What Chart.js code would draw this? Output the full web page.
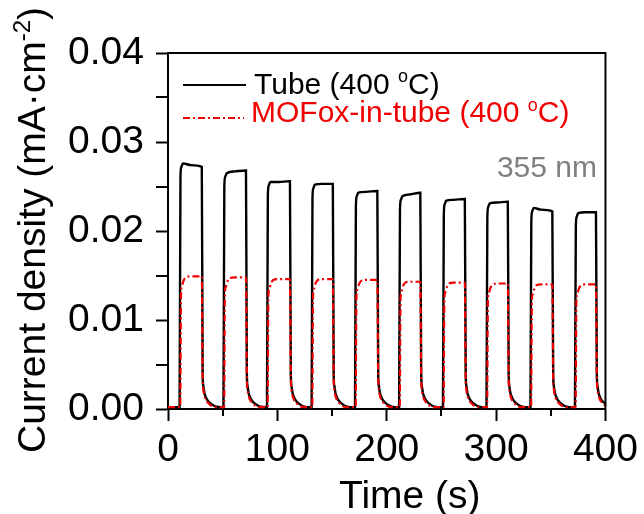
<!DOCTYPE html>
<html>
<head>
<meta charset="utf-8">
<script src="https://cdn.jsdelivr.net/npm/chart.js@4/dist/chart.umd.min.js"></script>
<style>
  html, body { margin: 0; padding: 0; background: #ffffff; }
  #wrap { width: 644px; height: 514px; position: relative; }
</style>
</head>
<body>
<div id="wrap"><canvas id="c" width="644" height="514"></canvas></div>
<script>
// ---- Data ----
const xTickValues = [0, 100, 200, 300, 400];
const yTickValues = [0.00, 0.01, 0.02, 0.03, 0.04];
const xMinorTicks = [50, 150, 250, 350];
const yMinorTicks = [0.005, 0.015, 0.025, 0.035];

const seriesNames = ['Tube (400 ', 'MOFox-in-tube (400 '];

// Tube (400 oC) - black solid
const tubeTime = [
  0,
  10.6, 11.4, 12.2, 13.6, 21.0, 30.9, 31.7, 32.3, 33.3, 34.7, 36.6, 39.1, 43.1,
  50.7, 51.5, 52.3, 53.7, 61.0, 71.3, 72.1, 72.7, 73.7, 75.1, 77.0, 79.5, 83.5,
  90.5, 91.3, 92.1, 93.5, 101.0, 111.5, 112.3, 112.9, 113.9, 115.3, 117.2, 119.7, 123.7,
  131.3, 132.1, 132.9, 134.3, 141.0, 150.7, 151.5, 152.1, 153.1, 154.5, 156.4, 158.9, 162.9,
  171.0, 171.8, 172.6, 174.0, 181.0, 191.4, 192.2, 192.8, 193.8, 195.2, 197.1, 199.6, 203.6,
  211.3, 212.1, 212.9, 214.3, 221.0, 230.7, 231.5, 232.1, 233.1, 234.5, 236.4, 238.9, 242.9,
  251.4, 252.2, 253.0, 254.4, 261.0, 271.4, 272.2, 272.8, 273.8, 275.2, 277.1, 279.6, 283.6,
  291.2, 292.0, 292.8, 294.2, 301.0, 310.7, 311.5, 312.1, 313.1, 314.5, 316.4, 318.9, 322.9,
  331.4, 332.2, 333.0, 334.4, 341.0, 351.4, 352.2, 352.8, 353.8, 355.2, 357.1, 359.6, 363.6,
  372.1, 372.9, 373.7, 375.1, 382.0, 391.3, 392.1, 392.7, 393.7, 395.1, 397.0, 399.5, 400
];
const tubeValues = [
  0.0002,
  0.0002, 0.0261, 0.0272, 0.0276, 0.0274, 0.0272, 0.0040, 0.0026, 0.0018, 0.0013, 0.0009, 0.0006, 0.0003,
  0.0002, 0.0250, 0.0261, 0.0265, 0.0267, 0.0268, 0.0040, 0.0026, 0.0018, 0.0013, 0.0009, 0.0006, 0.0003,
  0.0002, 0.0240, 0.0251, 0.0255, 0.0255, 0.0256, 0.0040, 0.0026, 0.0018, 0.0013, 0.0009, 0.0006, 0.0003,
  0.0002, 0.0237, 0.0248, 0.0252, 0.0253, 0.0253, 0.0040, 0.0026, 0.0018, 0.0013, 0.0009, 0.0006, 0.0003,
  0.0002, 0.0228, 0.0239, 0.0243, 0.0244, 0.0245, 0.0040, 0.0026, 0.0018, 0.0013, 0.0009, 0.0006, 0.0003,
  0.0002, 0.0224, 0.0235, 0.0239, 0.0241, 0.0243, 0.0040, 0.0026, 0.0018, 0.0013, 0.0009, 0.0006, 0.0003,
  0.0002, 0.0219, 0.0230, 0.0234, 0.0235, 0.0236, 0.0040, 0.0026, 0.0018, 0.0013, 0.0009, 0.0006, 0.0003,
  0.0002, 0.0216, 0.0227, 0.0231, 0.0232, 0.0233, 0.0040, 0.0026, 0.0018, 0.0013, 0.0009, 0.0006, 0.0003,
  0.0002, 0.0211, 0.0222, 0.0226, 0.0224, 0.0222, 0.0040, 0.0026, 0.0018, 0.0013, 0.0009, 0.0006, 0.0003,
  0.0002, 0.0205, 0.0216, 0.0220, 0.0221, 0.0221, 0.0040, 0.0026, 0.0018, 0.0013, 0.0009, 0.0006, 0.00045
];

// MOFox-in-tube (400 oC) - red dash-dot
const mofTime = [
  0,
  11.2, 11.9, 12.7, 14.2, 16.2, 21.0, 30.9, 31.7, 32.3, 33.3, 34.7, 36.6, 39.1, 43.1,
  51.3, 52.0, 52.8, 54.3, 56.3, 61.0, 71.3, 72.1, 72.7, 73.7, 75.1, 77.0, 79.5, 83.5,
  91.1, 91.8, 92.6, 94.1, 96.1, 101.0, 111.5, 112.3, 112.9, 113.9, 115.3, 117.2, 119.7, 123.7,
  131.9, 132.6, 133.4, 134.9, 136.9, 141.0, 150.7, 151.5, 152.1, 153.1, 154.5, 156.4, 158.9, 162.9,
  171.6, 172.3, 173.1, 174.6, 176.6, 181.0, 191.4, 192.2, 192.8, 193.8, 195.2, 197.1, 199.6, 203.6,
  211.9, 212.6, 213.4, 214.9, 216.9, 221.0, 230.7, 231.5, 232.1, 233.1, 234.5, 236.4, 238.9, 242.9,
  252.0, 252.7, 253.5, 255.0, 257.0, 261.0, 271.4, 272.2, 272.8, 273.8, 275.2, 277.1, 279.6, 283.6,
  291.8, 292.5, 293.3, 294.8, 296.8, 301.0, 310.7, 311.5, 312.1, 313.1, 314.5, 316.4, 318.9, 322.9,
  332.0, 332.7, 333.5, 335.0, 337.0, 341.0, 351.4, 352.2, 352.8, 353.8, 355.2, 357.1, 359.6, 363.6,
  372.7, 373.4, 374.2, 375.7, 377.7, 382.0, 391.3, 392.1, 392.7, 393.7, 395.1, 397.0, 399.5, 400
];
const mofValues = [
  0.0002,
  0.0002, 0.0129, 0.0138, 0.0144, 0.0148, 0.0149, 0.0149, 0.0036, 0.0022, 0.0015, 0.0010, 0.0007, 0.0004, 0.0002,
  0.0002, 0.0128, 0.0137, 0.0143, 0.0147, 0.0148, 0.0148, 0.0036, 0.0022, 0.0015, 0.0010, 0.0007, 0.0004, 0.0002,
  0.0002, 0.0126, 0.0135, 0.0141, 0.0145, 0.0146, 0.0146, 0.0036, 0.0022, 0.0015, 0.0010, 0.0007, 0.0004, 0.0002,
  0.0002, 0.0126, 0.0135, 0.0141, 0.0145, 0.0146, 0.0146, 0.0036, 0.0022, 0.0015, 0.0010, 0.0007, 0.0004, 0.0002,
  0.0002, 0.0125, 0.0134, 0.0140, 0.0144, 0.0145, 0.0145, 0.0036, 0.0022, 0.0015, 0.0010, 0.0007, 0.0004, 0.0002,
  0.0002, 0.0123, 0.0132, 0.0138, 0.0142, 0.0143, 0.0143, 0.0036, 0.0022, 0.0015, 0.0010, 0.0007, 0.0004, 0.0002,
  0.0002, 0.0122, 0.0131, 0.0137, 0.0141, 0.0142, 0.0142, 0.0036, 0.0022, 0.0015, 0.0010, 0.0007, 0.0004, 0.0002,
  0.0002, 0.0121, 0.0130, 0.0136, 0.0140, 0.0141, 0.0141, 0.0036, 0.0022, 0.0015, 0.0010, 0.0007, 0.0004, 0.0002,
  0.0002, 0.0120, 0.0129, 0.0135, 0.0139, 0.0140, 0.0140, 0.0036, 0.0022, 0.0015, 0.0010, 0.0007, 0.0004, 0.0002,
  0.0002, 0.0120, 0.0129, 0.0135, 0.0139, 0.0140, 0.0140, 0.0036, 0.0022, 0.0015, 0.0010, 0.0007, 0.0004, 0.0004
];

// ---- Styles ----
const FONT = '"Liberation Sans", Arial, Helvetica, sans-serif';
const RED = '#f00000';
const BLACK = '#000000';
const DASHDOT = [7, 3, 2, 3];

function toXY(xs, ys) { return xs.map((x, i) => ({ x: x, y: ys[i] })); }

const decorPlugin = {
  id: 'decor',
  afterDraw(chart) {
    const ctx = chart.ctx;
    const a = chart.chartArea;
    const xs = chart.scales.x, ys = chart.scales.y;
    ctx.save();
    // frame top & right
    ctx.strokeStyle = BLACK;
    ctx.lineWidth = 2;
    ctx.beginPath();
    ctx.moveTo(a.left - 1, a.top);
    ctx.lineTo(a.right, a.top);
    ctx.lineTo(a.right, a.bottom + 1);
    ctx.stroke();
    // minor ticks
    ctx.lineWidth = 2;
    ctx.beginPath();
    xMinorTicks.forEach(v => {
      const px = Math.round(xs.getPixelForValue(v));
      ctx.moveTo(px, a.bottom);
      ctx.lineTo(px, a.bottom + 7);
    });
    yMinorTicks.forEach(v => {
      const py = Math.round(ys.getPixelForValue(v));
      ctx.moveTo(a.left, py);
      ctx.lineTo(a.left - 12, py);
    });
    ctx.stroke();

    // legend
    ctx.lineWidth = 2;
    ctx.strokeStyle = BLACK;
    ctx.beginPath();
    ctx.moveTo(183, 85); ctx.lineTo(246, 85);
    ctx.stroke();
    ctx.strokeStyle = RED;
    ctx.setLineDash(DASHDOT);
    ctx.beginPath();
    ctx.moveTo(183, 118); ctx.lineTo(244, 118);
    ctx.stroke();
    ctx.setLineDash([]);

    function supText(x, y, base, sup, tail, size, color) {
      ctx.fillStyle = color;
      ctx.textAlign = 'left';
      ctx.textBaseline = 'alphabetic';
      ctx.font = size + 'px ' + FONT;
      ctx.fillText(base, x, y);
      let w = ctx.measureText(base).width;
      const ss = Math.round(size * 0.6);
      ctx.font = ss + 'px ' + FONT;
      ctx.fillText(sup, x + w, y - size * 0.38);
      w += ctx.measureText(sup).width;
      ctx.font = size + 'px ' + FONT;
      ctx.fillText(tail, x + w, y);
    }
    supText(254, 93.5, seriesNames[0], 'o', 'C)', 30, BLACK);
    supText(251, 122, seriesNames[1], 'o', 'C)', 30, RED);

    // 355 nm
    ctx.font = '30px ' + FONT;
    ctx.fillStyle = '#808080';
    ctx.textAlign = 'right';
    ctx.fillText('355 nm', 597, 176.5);

    // x title
    ctx.font = '39px ' + FONT;
    ctx.fillStyle = BLACK;
    ctx.textAlign = 'left';
    ctx.fillText('Time (s)', 339, 508);

    // y title (rotated)
    ctx.translate(45, 453);
    ctx.rotate(-Math.PI / 2);
    ctx.textAlign = 'left';
    ctx.font = '39px ' + FONT;
    const t1 = 'Current density (mA\u00B7cm';
    ctx.fillText(t1, 0, 0);
    let w = ctx.measureText(t1).width;
    ctx.font = '24px ' + FONT;
    ctx.fillText('-2', w, -15);
    w += ctx.measureText('-2').width;
    ctx.font = '39px ' + FONT;
    ctx.fillText(')', w, 0);
    ctx.restore();
  }
};

const bgPlugin = {
  id: 'bg',
  beforeDraw(chart) {
    const ctx = chart.ctx;
    ctx.save();
    ctx.fillStyle = '#ffffff';
    ctx.fillRect(0, 0, chart.width, chart.height);
    ctx.restore();
  }
};

new Chart(document.getElementById('c'), {
  type: 'line',
  data: {
    datasets: [
      {
        label: seriesNames[0] + 'oC)',
        data: toXY(tubeTime, tubeValues),
        borderColor: BLACK,
        borderWidth: 2.4,
        pointRadius: 0,
        cubicInterpolationMode: 'monotone',
        fill: false,
        order: 1
      },
      {
        label: seriesNames[1] + 'oC)',
        data: toXY(mofTime, mofValues),
        borderColor: RED,
        borderWidth: 2.2,
        borderDash: DASHDOT,
        pointRadius: 0,
        cubicInterpolationMode: 'monotone',
        fill: false,
        order: 0
      }
    ]
  },
  options: {
    responsive: false,
    animation: false,
    events: [],
    layout: { padding: { top: 53, right: 34, left: 0, bottom: 0 } },
    plugins: { legend: { display: false }, tooltip: { enabled: false }, title: { display: false } },
    scales: {
      x: {
        type: 'linear',
        min: 0, max: 400,
        afterFit(s) { s.height = 105; },
        afterBuildTicks(s) { s.ticks = xTickValues.map(v => ({ value: v })); },
        ticks: {
          color: BLACK,
          font: { family: FONT, size: 39 },
          padding: 6,
          maxRotation: 0,
          autoSkip: false,
          callback: v => String(v)
        },
        grid: { drawOnChartArea: false, tickLength: 12, tickWidth: 2, tickColor: BLACK },
        border: { color: BLACK, width: 2 }
      },
      y: {
        type: 'linear',
        min: 0, max: 0.04,
        afterFit(s) { s.width = 168; },
        afterBuildTicks(s) { s.ticks = yTickValues.map(v => ({ value: v })); },
        ticks: {
          color: BLACK,
          font: { family: FONT, size: 39 },
          padding: 12,
          autoSkip: false,
          callback: v => Number(v).toFixed(2)
        },
        grid: { drawOnChartArea: false, tickLength: 12, tickWidth: 2, tickColor: BLACK },
        border: { color: BLACK, width: 2 }
      }
    }
  },
  plugins: [bgPlugin, decorPlugin]
});
</script>
</body>
</html>
